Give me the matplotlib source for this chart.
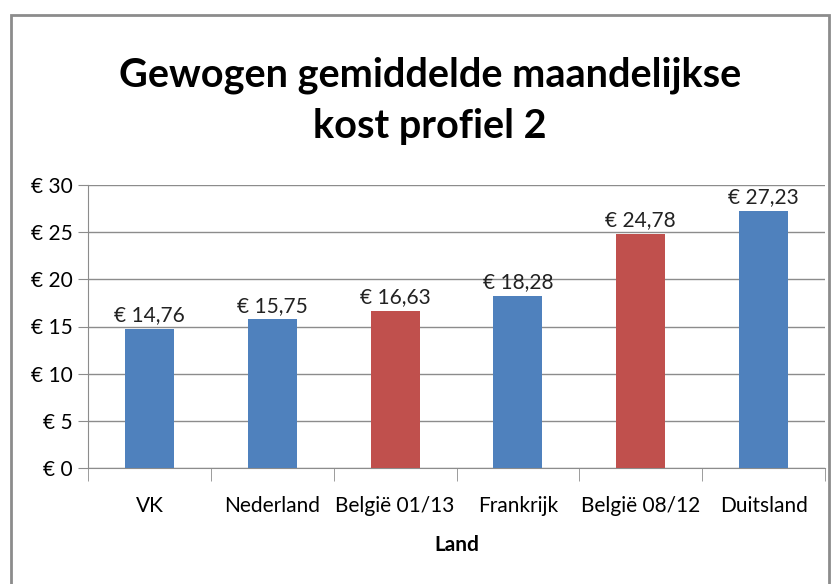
import matplotlib.pyplot as plt
import matplotlib.patches as mpatches

# data
landen = ['VK', 'Nederland', 'België 01/13', 'Frankrijk', 'België 08/12', 'Duitsland']
kost = [14.76, 15.75, 16.63, 18.28, 24.78, 27.23]
kleuren = ['#4F81BD', '#4F81BD', '#C0504D', '#4F81BD', '#C0504D', '#4F81BD']
y_ticks = [0, 5, 10, 15, 20, 25, 30]

plt.rcParams['font.family'] = ['Lato', 'DejaVu Sans']

W, H = 839, 584
fig = plt.figure(figsize=(W / 100, H / 100), dpi=100)

# chart border
fig.patches.append(mpatches.Rectangle((11 / W, -0.1), (829 - 11) / W, 1.1 - 15 / H,
                                      transform=fig.transFigure, fill=False,
                                      edgecolor='#8c8c8c', linewidth=2))

ax = fig.add_axes([88 / W, 1 - 468 / H, (825 - 88) / W, (468 - 185) / H])

x = range(len(landen))
bars = ax.bar(x, kost, width=0.4, color=kleuren, zorder=3)

for xi, v in zip(x, kost):
    ax.text(xi, v + 0.4, '€ ' + f'{v:.2f}'.replace('.', ','), ha='center', va='bottom',
            fontsize=15, color='#222222')

ax.set_xlim(-0.5, len(landen) - 0.5)
ax.set_ylim(0, 30)
ax.set_yticks(y_ticks)
ax.set_yticklabels(['€ %d' % t for t in y_ticks], fontsize=15)
ax.yaxis.grid(True, color='#8c8c8c', linewidth=1, zorder=0)
ax.tick_params(axis='y', length=7, color='#8c8c8c', pad=4)

ax.set_xticks(x)
ax.set_xticklabels(landen, fontsize=15)
ax.set_xticks([i + 0.5 for i in range(-1, len(landen))], minor=True)
ax.tick_params(axis='x', which='major', length=0, pad=20)
ax.tick_params(axis='x', which='minor', length=9, color='#8c8c8c')

for s in ['top', 'right']:
    ax.spines[s].set_visible(False)
for s in ['left', 'bottom']:
    ax.spines[s].set_color('#8c8c8c')

ax.set_xlabel('Land', fontsize=15, fontweight='bold', labelpad=14)

fig.text(430 / W, 1 - 101 / H, 'Gewogen gemiddelde maandelijkse\nkost profiel 2',
         ha='center', va='center', fontsize=28.5, fontweight='bold', linespacing=1.45)

fig.savefig('out.png', dpi=100)
